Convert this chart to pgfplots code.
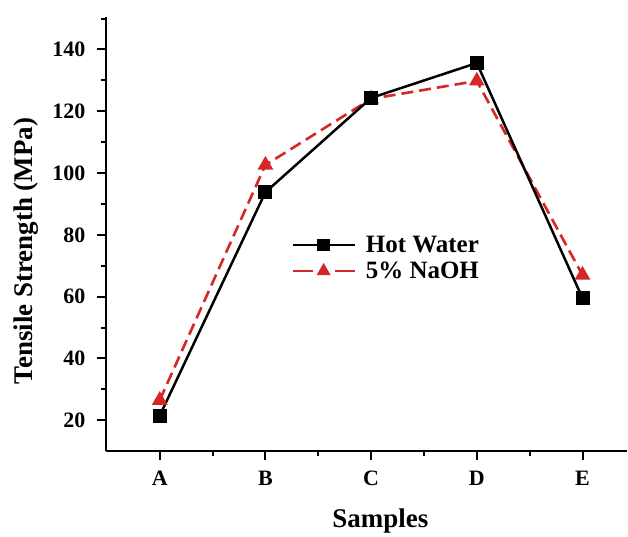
\documentclass[border=0pt]{standalone}
\usepackage{fontspec}
\setmainfont{Liberation Serif}
\usepackage{pgfplots}
\pgfplotsset{compat=1.18}
\definecolor{nred}{RGB}{214,39,40}
\pgfplotsset{
  redleg/.style={legend image code/.code={\draw[##1, dash pattern=on 20pt off 22pt, mark size=5.5pt, mark repeat=2, mark phase=2] plot coordinates {(0pt,0pt) (31pt,0pt) (62pt,0pt)}; \path (70pt,0pt);}},
  blkleg/.style={legend image code/.code={\draw[##1, mark size=5pt, mark repeat=2, mark phase=2] plot coordinates {(0pt,0pt) (31pt,0pt) (62pt,0pt)}; \path (70pt,0pt);}},
}
\begin{document}
\begin{tikzpicture}
\begin{axis}[
  scale only axis, width=522pt, height=435pt,
  xmin=-0.51, xmax=4.42, ymin=10, ymax=150.5,
  axis x line*=bottom, axis y line*=left,
  axis line style={line width=2.2pt, black},
  xtick={0,1,2,3,4}, xticklabels={A,B,C,D,E},
  minor xtick={0.5,1.5,2.5,3.5},
  ytick={20,40,60,80,100,120,140},
  minor ytick={30,50,70,90,110,130,150},
  tick align=outside, major tick length=9pt, minor tick length=5pt,
  every tick/.style={line width=2pt, black},
  /pgf/number format/assume math mode=true,
  ticklabel style={font=\bfseries\fontsize{22}{22}\selectfont},
  yticklabel style={xshift=-8pt},
  xticklabel style={yshift=-7pt},
  xlabel={Samples}, ylabel={Tensile Strength (MPa)},
  label style={font=\bfseries\fontsize{27}{27}\selectfont},
  xlabel style={at={(axis description cs:0.527,-0.161)}, anchor=center},
  ylabel style={at={(axis description cs:-0.153,0.461)}, anchor=center},
  legend style={draw=none, fill=none, at={(axis description cs:0.35,0.505)}, anchor=north west,
    font=\bfseries\fontsize{25}{25}\selectfont, row sep=4pt},
  legend cell align=left,
  reverse legend,
  clip=false,
]
\addplot[nred, line width=2.6pt, dash pattern=on 12pt off 6pt, mark=triangle*, mark size=6.5pt, mark options={solid}, redleg]
  coordinates {(0,26.5) (1,102.6) (2,124) (3,129.8) (4,67)};
\addlegendentry{5\% NaOH}
\addplot[black, line width=2.5pt, mark=square*, mark size=5.75pt, mark options={solid}, blkleg]
  coordinates {(0,21.5) (1,93.8) (2,124.3) (3,135.6) (4,59.5)};
\addlegendentry{Hot Water}
\end{axis}
\path (current axis.south west) ++(-106pt,-83pt);
\path (current axis.north east) ++(0pt,17pt);
\end{tikzpicture}
\end{document}
